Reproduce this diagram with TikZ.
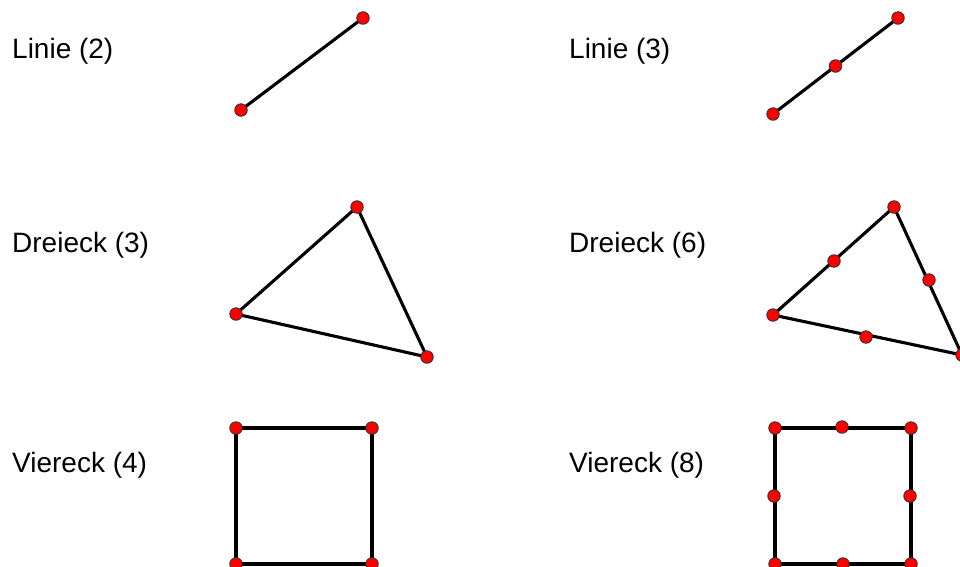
\documentclass[tikz,border=0pt]{standalone}
\usepackage{fontspec}
\setmainfont{Liberation Sans}
\usetikzlibrary{calc}
\begin{document}
\begin{tikzpicture}[x=1pt,y=-1pt,
  seg/.style={line width=3.1pt, line join=round},
  dot/.style={circle, fill=red, draw=black!80, line width=0.9pt, inner sep=0pt, minimum size=12.5pt},
  lbl/.style={anchor=base west, inner sep=0pt, font=\fontsize{28}{33}\selectfont}]
\useasboundingbox (0,0) rectangle (960,566);
% labels
\node[lbl] (t1) at (12,58) {Linie (2)};
\node[lbl] (t2) at (569,58) {Linie (3)};
\node[lbl] (t3) at (12,252) {Dreieck (3)};
\node[lbl] (t4) at (569,252) {Dreieck (6)};
\node[lbl] (t5) at (12,472) {Viereck (4)};
\node[lbl] (t6) at (569,472) {Viereck (8)};
% Linie (2)
\coordinate (a1) at (241,110);
\coordinate (a2) at (363,18);
\draw[seg] (a1) -- (a2);
% Linie (3)
\coordinate (b1) at (773,114);
\coordinate (b2) at (898,18);
\coordinate (bm) at ($(b1)!0.5!(b2)$);
\draw[seg] (b1) -- (b2);
% Dreieck (3)
\coordinate (c1) at (236,314);
\coordinate (c2) at (357,207);
\coordinate (c3) at (427,357);
\draw[seg] (c1) -- (c2) -- (c3) -- cycle;
% Dreieck (6)
\coordinate (d1) at (773,315);
\coordinate (d2) at (894,207);
\coordinate (d3) at (962,355);
\coordinate (d12) at (834,261);
\coordinate (d23) at (929,280);
\coordinate (d31) at (866,337);
\draw[seg] (d1) -- (d2) -- (d3) -- cycle;
% Viereck (4)
\coordinate (e1) at (236,428);
\coordinate (e2) at (372,428);
\coordinate (e3) at (372,564);
\coordinate (e4) at (236,564);
\draw[seg] (e1) -- (e2) -- (e3) -- (e4) -- cycle;
% Viereck (8)
\coordinate (f1) at (775,428);
\coordinate (f2) at (911,428);
\coordinate (f3) at (911,564);
\coordinate (f4) at (775,564);
\coordinate (f12) at (842,427);
\coordinate (f23) at (910,496);
\coordinate (f34) at (843,564);
\coordinate (f41) at (774,496);
\draw[seg] (f1) -- (f2) -- (f3) -- (f4) -- cycle;
% dots
\foreach \p in {a1,a2,b1,b2,bm,c1,c2,c3,d1,d2,d3,d12,d23,d31,e1,e2,e3,e4,f1,f2,f3,f4,f12,f23,f34,f41}
  \node[dot] (n\p) at (\p) {};
\end{tikzpicture}
\end{document}
